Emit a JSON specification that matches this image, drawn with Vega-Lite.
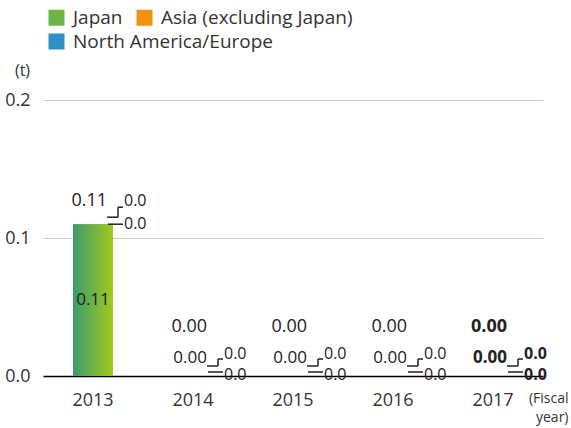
{
  "$schema": "https://vega.github.io/schema/vega-lite/v6.json",
  "width": 500,
  "height": 276,
  "autosize": "none",
  "padding": {"left": 43, "top": 100, "right": 28, "bottom": 52},
  "background": "white",
  "config": {
    "font": "Open Sans",
    "view": {"stroke": null},
    "axisY": {
      "titleAngle": 0, "titleX": -21, "titleY": -30, "titleAlign": "center", "titleBaseline": "middle",
      "titleFontSize": 16, "titleFontWeight": "normal", "titleColor": "#333",
      "labelFontSize": 18, "labelPadding": 13, "labelColor": "#333",
      "domain": false, "ticks": false, "gridColor": "#cccccc", "gridWidth": 1
    },
    "axisX": {
      "labelFontSize": 18, "labelPadding": 15, "labelColor": "#333", "labelAngle": 0,
      "domainColor": "#000000", "domainWidth": 1.5, "ticks": false, "grid": false,
      "titleFontSize": 14, "titleFontWeight": "normal", "titleColor": "#333",
      "titleAlign": "right", "titleX": 525, "titleY": 15, "titleBaseline": "top", "titleLineHeight": 19
    },
    "legend": {
      "orient": "none", "direction": "horizontal", "title": null,
      "symbolType": "square", "symbolSize": 256, "symbolStrokeWidth": 0,
      "labelFontSize": 19, "labelOffset": 7, "labelColor": "#333", "labelLimit": 400,
      "columnPadding": 12
    }
  },
  "data": {"values": [
    {"year": "2013", "region": "Japan", "value": 0.11},
    {"year": "2013", "region": "Asia (excluding Japan)", "value": 0.0},
    {"year": "2013", "region": "North America/Europe", "value": 0.0},
    {"year": "2014", "region": "Japan", "value": 0.0},
    {"year": "2014", "region": "Asia (excluding Japan)", "value": 0.0},
    {"year": "2014", "region": "North America/Europe", "value": 0.0},
    {"year": "2015", "region": "Japan", "value": 0.0},
    {"year": "2015", "region": "Asia (excluding Japan)", "value": 0.0},
    {"year": "2015", "region": "North America/Europe", "value": 0.0},
    {"year": "2016", "region": "Japan", "value": 0.0},
    {"year": "2016", "region": "Asia (excluding Japan)", "value": 0.0},
    {"year": "2016", "region": "North America/Europe", "value": 0.0},
    {"year": "2017", "region": "Japan", "value": 0.0},
    {"year": "2017", "region": "Asia (excluding Japan)", "value": 0.0},
    {"year": "2017", "region": "North America/Europe", "value": 0.0}
  ]},
  "transform": [
    {"joinaggregate": [{"op": "sum", "field": "value", "as": "total"}], "groupby": ["year"]}
  ],
  "encoding": {
    "x": {
      "field": "year", "type": "nominal",
      "scale": {"paddingInner": 0.6, "paddingOuter": 0.3},
      "axis": {"title": ["(Fiscal", "year)"]}
    }
  },
  "layer": [
    {
      "transform": [{"filter": "datum.region != 'North America/Europe'"}],
      "mark": {"type": "bar", "stroke": null},
      "encoding": {
        "y": {
          "field": "value", "type": "quantitative", "stack": "zero", "title": "(t)",
          "scale": {"domain": [0, 0.2]},
          "axis": {"values": [0, 0.1, 0.2], "format": ".1f"}
        },
        "color": {
          "field": "region", "type": "nominal",
          "scale": {
            "domain": ["Japan", "Asia (excluding Japan)"],
            "range": ["#6db445", "#f29210"]
          },
          "legend": {
            "legendX": 4, "legendY": -92,
            "encode": {
              "symbols": {
                "update": {
                  "fill": {"signal": "datum.value == 'Japan' ? {gradient: 'linear', x1: 0, y1: 0, x2: 1, y2: 0, stops: [{offset: 0, color: '#33994f'}, {offset: 1, color: '#8cc63f'}]} : {gradient: 'linear', x1: 0, y1: 0, x2: 1, y2: 0, stops: [{offset: 0, color: '#ee7c00'}, {offset: 1, color: '#f8a41c'}]}"},
                  "opacity": {"value": 1}
                }
              }
            }
          }
        }
      }
    },
    {
      "transform": [{"filter": "datum.region == 'North America/Europe'"}],
      "mark": {"type": "bar", "stroke": null},
      "encoding": {
        "y": {"field": "value", "type": "quantitative", "title": "(t)"},
        "fill": {
          "field": "region", "type": "nominal",
          "scale": {"domain": ["North America/Europe"], "range": ["#2f90c3"]},
          "legend": {
            "legendX": 4, "legendY": -68,
            "encode": {
              "symbols": {
                "update": {
                  "fill": {"signal": "datum.value == 'North America/Europe' ? {gradient: 'linear', x1: 0, y1: 0, x2: 1, y2: 0, stops: [{offset: 0, color: '#1f6db5'}, {offset: 1, color: '#3daed0'}]} : '#2f90c3'"},
                  "opacity": {"value": 1}
                }
              }
            }
          }
        }
      }
    },
    {
      "transform": [{"filter": "datum.region == 'Japan'"}],
      "mark": {
        "type": "bar", "stroke": null,
        "color": {"gradient": "linear", "x1": 0, "y1": 0, "x2": 1, "y2": 0, "stops": [{"offset": 0, "color": "#3a9d6c"}, {"offset": 1, "color": "#a2c91c"}]}
      },
      "encoding": {
        "y": {"field": "value", "type": "quantitative", "title": "(t)"}
      }
    },
    {
      "transform": [{"filter": "datum.region == 'Japan'"}],
      "mark": {
        "type": "text", "fontSize": 18, "align": "right", "baseline": "middle", "dx": 14,
        "dy": {"expr": "datum.total > 0.05 ? -23 : -49"},
        "fontWeight": {"expr": "datum.year == '2017' ? 'bold' : 'normal'"},
        "color": "#222"
      },
      "encoding": {
        "y": {"field": "total", "type": "quantitative", "title": "(t)"},
        "text": {"field": "total", "type": "quantitative", "format": ".2f"}
      }
    },
    {
      "transform": [{"filter": "datum.region == 'Japan'"}],
      "mark": {
        "type": "text", "fontSize": 17, "baseline": "middle",
        "align": {"expr": "datum.total > 0.05 ? 'center' : 'right'"},
        "dx": {"expr": "datum.total > 0.05 ? 0 : 14"},
        "dy": {"expr": "datum.total > 0.05 ? 76 : -18"},
        "fontWeight": {"expr": "datum.year == '2017' ? 'bold' : 'normal'"},
        "color": "#222"
      },
      "encoding": {
        "y": {"field": "value", "type": "quantitative", "title": "(t)"},
        "text": {"field": "value", "type": "quantitative", "format": ".2f"}
      }
    },
    {
      "transform": [{"filter": "datum.region == 'Asia (excluding Japan)'"}],
      "mark": {
        "type": "text", "fontSize": 16, "baseline": "middle", "align": "left", "dx": 31,
        "dy": {"expr": "datum.total > 0.05 ? -23 : -22"},
        "fontWeight": {"expr": "datum.year == '2017' ? 'bold' : 'normal'"},
        "color": "#222"
      },
      "encoding": {
        "y": {"field": "total", "type": "quantitative", "title": "(t)"},
        "text": {"field": "value", "type": "quantitative", "format": ".1f"}
      }
    },
    {
      "transform": [{"filter": "datum.region == 'North America/Europe'"}],
      "mark": {
        "type": "text", "fontSize": 16, "baseline": "middle", "align": "left", "dx": 31,
        "dy": {"expr": "datum.total > 0.05 ? 0 : -1"},
        "fontWeight": {"expr": "datum.year == '2017' ? 'bold' : 'normal'"},
        "color": "#222"
      },
      "encoding": {
        "y": {"field": "total", "type": "quantitative", "title": "(t)"},
        "text": {"field": "value", "type": "quantitative", "format": ".1f"}
      }
    },
    {
      "transform": [{"filter": "datum.region == 'Japan'"}],
      "mark": {"type": "rule", "color": "#222", "strokeWidth": 1.5, "xOffset": 14, "x2Offset": 25,
        "yOffset": {"expr": "datum.total > 0.05 ? -7 : -10"}},
      "encoding": {
        "x": {"field": "year", "type": "nominal", "bandPosition": 0.5},
        "x2": {"field": "year", "bandPosition": 0.5},
        "y": {"field": "total", "type": "quantitative", "title": "(t)"}
      }
    },
    {
      "transform": [{"filter": "datum.region == 'Japan'"}],
      "mark": {"type": "rule", "color": "#222", "strokeWidth": 1.5, "xOffset": 25,
        "yOffset": {"expr": "datum.total > 0.05 ? -7 : -10"}, "y2Offset": -17},
      "encoding": {
        "x": {"field": "year", "type": "nominal", "bandPosition": 0.5},
        "y": {"field": "total", "type": "quantitative", "title": "(t)"},
        "y2": {"field": "total"}
      }
    },
    {
      "transform": [{"filter": "datum.region == 'Japan'"}],
      "mark": {"type": "rule", "color": "#222", "strokeWidth": 1.5, "xOffset": 25, "x2Offset": 30, "yOffset": -17},
      "encoding": {
        "x": {"field": "year", "type": "nominal", "bandPosition": 0.5},
        "x2": {"field": "year", "bandPosition": 0.5},
        "y": {"field": "total", "type": "quantitative", "title": "(t)"}
      }
    },
    {
      "transform": [{"filter": "datum.region == 'Japan'"}],
      "mark": {"type": "rule", "color": "#222", "strokeWidth": 1.5, "xOffset": 15, "x2Offset": 30,
        "yOffset": {"expr": "datum.total > 0.05 ? 0 : -4"}},
      "encoding": {
        "x": {"field": "year", "type": "nominal", "bandPosition": 0.5},
        "x2": {"field": "year", "bandPosition": 0.5},
        "y": {"field": "total", "type": "quantitative", "title": "(t)"}
      }
    }
  ]
}
